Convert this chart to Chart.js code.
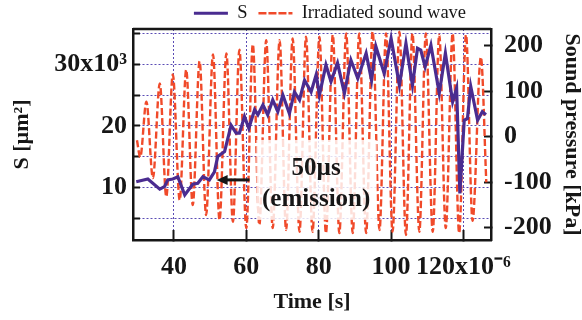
<!DOCTYPE html>
<html>
<head>
<meta charset="utf-8">
<title>S and irradiated sound wave</title>
<script src="https://cdn.jsdelivr.net/npm/chart.js"></script>
<style>
  html, body { margin: 0; padding: 0; background: #fff; }
  #wrap { width: 582px; height: 320px; overflow: hidden; }
</style>
</head>
<body>
<div id="wrap"><canvas id="chart" width="582" height="320"></canvas></div>
<script>
// S (x10^3 um^2) against time (us)
const sTime = [29.6, 32.8, 36.1, 37.4, 38.3, 39.7, 41.1, 43.0, 45.2, 46.6, 48.0, 49.8, 51.2, 52.1, 54.0,
  55.8, 57.2, 58.1, 59.5, 60.7, 62.3, 63.2, 64.6, 65.9, 67.3, 68.7, 70.1, 71.9, 73.3, 74.7,
  76.1, 77.9, 79.3, 80.2, 82.0, 83.4, 85.2, 87.1, 88.9, 90.8, 93.1, 94.6, 95.8, 98.1, 100.0,
  102.3, 104.1, 105.9, 107.3, 108.2, 109.4, 111.0, 113.3, 115.0, 117.0, 118.1, 119.0, 120.2, 121.1, 122.0,
  123.9, 125.2, 126.2];
const sArea = [10.9, 11.35, 9.7, 10.1, 11.2, 11.35, 11.7, 8.75, 10.5, 10.65, 11.7, 11.2, 12.5, 15.0, 15.8,
  20.1, 18.8, 18.8, 21.5, 19.6, 22.6, 21.8, 23.4, 21.8, 24.2, 22.3, 25.0, 22.0, 25.5, 24.2,
  27.4, 25.5, 28.3, 25.0, 29.9, 27.2, 30.2, 25.3, 30.7, 27.7, 31.8, 27.4, 32.9, 28.5, 34.2,
  26.6, 33.4, 26.6, 32.6, 32.3, 29.6, 33.1, 25.3, 31.8, 23.9, 26.1, 9.0, 20.9, 21.2, 26.4,
  20.9, 22.3, 21.8];

// irradiated sound wave: peaks and troughs (kPa)
const soundTime = [29.8, 30.7, 32.4, 34.2, 36.1, 37.9, 39.7, 41.6, 43.4, 45.2, 47.1, 48.9, 50.8, 52.6, 54.5,
  56.3, 58.1, 60.0, 61.8, 63.6, 65.5, 67.3, 69.2, 71.0, 72.8, 74.7, 76.5, 78.3, 80.2, 82.0,
  83.9, 85.7, 87.6, 89.4, 91.2, 93.1, 94.9, 96.8, 98.6, 100.4, 102.3, 104.1, 105.9, 107.8, 109.6,
  111.5, 113.3, 115.1, 117.0, 118.8, 120.7, 122.5, 124.8, 126.3];
const soundKPa = [-8, -45, 77, -91, 117, -132, 137, -139, 147, -150, 166, -172, 181, -183, 183,
  -187, 191, -201, 203, -194, 212, -201, 212, -205, 216, -209, 220, -209, 220, -212,
  224, -212, 227, -212, 227, -212, 231, -205, 227, -209, 231, -216, 227, -209, 227,
  -209, 224, -201, 227, -212, 224, -185, 175, -100];

const seriesNames = ['S', 'Irradiated sound wave'];
const xLabels = {40: '40', 60: '60', 80: '80', 100: '100', 120: '120x10\u207B\u2076'};
const leftLabels = {10: '10', 20: '20', 30: '30x10\u00B3'};

const note = {
  lines: ['50\u00B5s', '(emission)'],
  x: 79.3, y: [13.0, 8.0],
  box: {x0: 62.8, x1: 96.0, y0: 4.7, y1: 17.7},
  arrow: {from: 60.9, to: 51.8, y: 11.2}
};

const serif = 'Liberation Serif, "Times New Roman", serif';
const ink = '#161616';
const gridColor = '#5b4cb5';
// the legend is centred on a box that runs past the right edge, which moves it right
const overhang = 78;

const frame = {
  id: 'frame',
  afterDatasetsDraw(chart) {
    const {ctx, scales} = chart;
    const x = scales.x, y = scales.y;
    ctx.save();
    // white note box
    const bx0 = x.getPixelForValue(note.box.x0), bx1 = x.getPixelForValue(note.box.x1);
    const by0 = y.getPixelForValue(note.box.y1), by1 = y.getPixelForValue(note.box.y0);
    ctx.fillStyle = 'rgba(255,255,255,0.82)';
    ctx.fillRect(bx0, by0, bx1 - bx0, by1 - by0);
    ctx.fillStyle = ink;
    ctx.font = 'bold 25px ' + serif;
    ctx.textAlign = 'center';
    ctx.textBaseline = 'middle';
    note.lines.forEach((t, i) => ctx.fillText(t, x.getPixelForValue(note.x), y.getPixelForValue(note.y[i])));
    // arrow
    const ax0 = x.getPixelForValue(note.arrow.from), ax1 = x.getPixelForValue(note.arrow.to);
    const ay = y.getPixelForValue(note.arrow.y);
    ctx.strokeStyle = ink;
    ctx.lineWidth = 3;
    ctx.beginPath();
    ctx.moveTo(ax0, ay);
    ctx.lineTo(ax1 + 8, ay);
    ctx.stroke();
    ctx.beginPath();
    ctx.moveTo(ax1, ay);
    ctx.lineTo(ax1 + 11, ay - 5);
    ctx.lineTo(ax1 + 11, ay + 5);
    ctx.closePath();
    ctx.fill();
    ctx.restore();
  },
  afterDraw(chart) {
    const {ctx, chartArea: a} = chart;
    ctx.save();
    ctx.strokeStyle = ink;
    ctx.lineWidth = 2.5;
    ctx.beginPath();
    ctx.moveTo(a.left, a.top);
    ctx.lineTo(a.right, a.top);
    ctx.stroke();
    ctx.restore();
  }
};

// keep the tick labels from pushing the plot box down
function noEndPadding(s) {
  s.paddingTop = 0;
  s.paddingBottom = 0;
}

new Chart(document.getElementById('chart'), {
  type: 'line',
  data: {
    datasets: [
      {
        label: seriesNames[0],
        data: sTime.map((t, i) => ({x: t, y: sArea[i]})),
        yAxisID: 'y',
        borderColor: '#4a2c90',
        backgroundColor: 'rgba(0,0,0,0)',
        borderWidth: 3.2,
        pointRadius: 0,
        tension: 0
      },
      {
        label: seriesNames[1],
        data: soundTime.map((t, i) => ({x: t, y: soundKPa[i]})),
        yAxisID: 'y2',
        borderColor: '#f04a2a',
        backgroundColor: 'rgba(0,0,0,0)',
        borderWidth: 2.4,
        borderDash: [7, 3],
        pointRadius: 0,
        cubicInterpolationMode: 'monotone'
      }
    ]
  },
  options: {
    responsive: false,
    animation: false,
    layout: {padding: {top: -7, left: 0, right: -overhang, bottom: 0}},
    plugins: {
      tooltip: {enabled: false},
      legend: {
        position: 'top',
        maxHeight: 36,
        labels: {
          boxWidth: 34,
          boxHeight: 0,
          padding: 11,
          color: ink,
          font: {family: serif, size: 18.5}
        }
      }
    },
    scales: {
      x: {
        type: 'linear',
        min: 28.7,
        max: 127.6,
        afterFit(s) { s.height = 80; },
        ticks: {
          stepSize: 20,
          includeBounds: false,
          autoSkip: false,
          maxRotation: 0,
          padding: 22,
          color: ink,
          font: {family: serif, size: 26, weight: 'bold'},
          callback: v => xLabels[v] || ''
        },
        grid: {color: gridColor, lineWidth: 1, tickLength: -10, tickColor: ink, tickWidth: 2, tickBorderDash: []},
        border: {color: ink, width: 2.5, dash: [2, 2]},
        title: {display: true, text: 'Time [s]', color: ink, padding: {top: 0, bottom: 4},
          font: {family: serif, size: 22, weight: 'bold'}}
      },
      y: {
        type: 'linear',
        position: 'left',
        min: 1.43,
        max: 35.74,
        afterFit(s) { s.width = 133; noEndPadding(s); },
        ticks: {
          stepSize: 5,
          includeBounds: false,
          autoSkip: false,
          padding: 13,
          color: ink,
          font: {family: serif, size: 26, weight: 'bold'},
          callback: v => leftLabels[v] || ''
        },
        grid: {color: gridColor, lineWidth: 1, tickLength: -7, tickColor: ink, tickWidth: 2, tickBorderDash: []},
        border: {color: ink, width: 2.5, dash: [2, 2]},
        title: {display: true, text: 'S [\u00B5m\u00B2]', color: ink, padding: {top: 9, bottom: 0},
          font: {family: serif, size: 22, weight: 'bold'}}
      },
      y2: {
        type: 'linear',
        position: 'right',
        min: -227,
        max: 236.7,
        afterFit(s) { s.width = 91 + overhang; noEndPadding(s); },
        ticks: {
          stepSize: 100,
          includeBounds: false,
          autoSkip: false,
          padding: 20,
          color: ink,
          font: {family: serif, size: 26, weight: 'bold'}
        },
        grid: {drawOnChartArea: false, tickLength: -7, tickColor: ink, tickWidth: 2, tickBorderDash: []},
        border: {color: ink, width: 2.5},
        title: {display: true, text: 'Sound pressure [kPa]', color: ink, padding: {top: overhang - 1, bottom: 0},
          font: {family: serif, size: 22, weight: 'bold', lineHeight: 1}}
      }
    }
  },
  plugins: [frame]
});
</script>
</body>
</html>
